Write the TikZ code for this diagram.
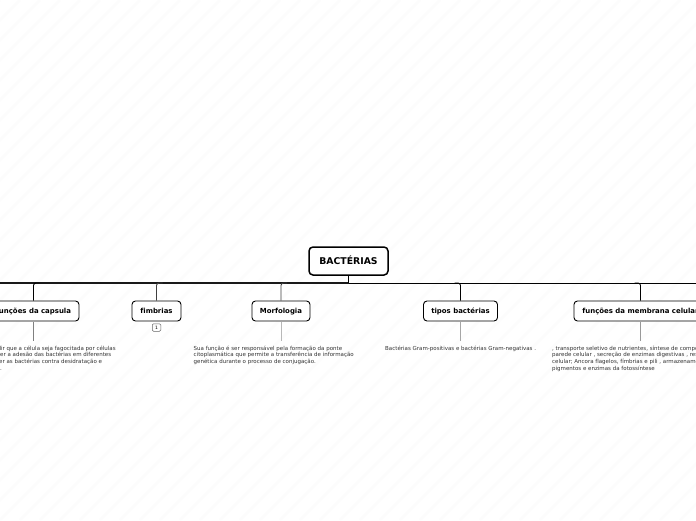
\documentclass[tikz,border=0pt]{standalone}
\usepackage{fontspec}
\setmainfont[Ligatures=NoCommon]{DejaVu Sans}
\usetikzlibrary{calc}
\tikzset{
  x=1pt,y=-1pt,
  rootbox/.style={draw=black,line width=1.5pt,rounded corners=4pt,fill=white,minimum width=79pt,minimum height=28pt,inner sep=0pt,text height=6.5pt,text depth=0pt,font=\fontsize{9.3}{11}\selectfont\bfseries},
  branchbox/.style={draw=black,line width=.9pt,rounded corners=3.5pt,fill=white,minimum height=20pt,inner sep=0pt,text height=5.2pt,text depth=0pt,font=\fontsize{6.95}{8}\selectfont\bfseries},
  note/.style={inner sep=0pt,anchor=north west,align=left,text=black!80,font=\fontsize{5.5}{6.8}\selectfont},
  trunkleft/.style={draw=black!90,line width=1.4pt},
  trunkright/.style={draw=black,line width=1pt},
  rootstem/.style={draw=black,line width=1.5pt},
  drop/.style={draw=black,line width=.9pt,rounded corners=2.5pt},
  dropgrey/.style={drop,draw=black!75},
  stem/.style={draw=black!35,line width=.9pt},
  countbox/.style={draw=black!60,line width=.5pt,rounded corners=1.2pt,minimum width=8.5pt,minimum height=7.5pt,inner sep=0pt,font=\fontsize{4.5}{5}\selectfont},
  stripe/.style={draw=black!1,line width=2.5pt}
}
\begin{document}
\begin{tikzpicture}
\useasboundingbox (0,0) rectangle (696,520);
\fill[white] (0,0) rectangle (696,520);
\begin{scope}
\clip (0,0) rectangle (696,520);
\foreach \k in {0,20,...,1220}{
  \draw[stripe] (\k,0) -- (\k-520,520);
}
\node[rootbox] (root) at (348.5,261) {BACTÉRIAS};
\node[branchbox,minimum width=91pt] (capsula) at (33.5,311) {funções da capsula};
\node[branchbox,minimum width=49pt] (fimbrias) at (156.5,311) {fimbrias};
\node[branchbox,minimum width=58pt] (morfo) at (281,311) {Morfologia};
\node[branchbox,minimum width=74pt] (tipos) at (460.5,311) {tipos bactérias};
\node[branchbox,minimum width=133pt] (membrana) at (640.5,311) {funções da membrana celular};
\coordinate (tl) at (0,283);
\coordinate (tr) at (696,283);
\coordinate (tm) at (root.south |- tl);
\draw[trunkleft] (tl) -- (tm);
\draw[trunkright] (tm) -- (tr);
\draw[rootstem] (root.south) -- (tm);
\draw[drop] (capsula.north) -- (capsula.north |- tl) -- ($(capsula.north |- tl)+(6,0)$);
\draw[dropgrey] (fimbrias.north) -- (fimbrias.north |- tl) -- ($(fimbrias.north |- tl)+(6,0)$);
\draw[dropgrey] (morfo.north) -- (morfo.north |- tl) -- ($(morfo.north |- tl)+(6,0)$);
\draw[drop] (tipos.north) -- (tipos.north |- tl) -- ($(tipos.north |- tl)+(-6,0)$);
\draw[drop] (membrana.north) -- (membrana.north |- tl) -- ($(membrana.north |- tl)+(-6,0)$);
\node[countbox] (count) at (156.5,327.5) {1};
\coordinate (s1) at (33.5,341); \coordinate (s1t) at (33.5,322);
\coordinate (s2) at (281,341); \coordinate (s2t) at (281,322);
\coordinate (s3) at (460.5,341); \coordinate (s3t) at (460.5,322);
\coordinate (s4) at (640.5,341); \coordinate (s4t) at (640.5,322);
\draw[stem,draw=black!50] (s1t) -- (s1);
\draw[stem,draw=black!28] (s2t) -- (s2);
\draw[stem] (s3t) -- (s3);
\draw[stem,draw=black!40] (s4t) -- (s4);
\node[note] (n1) at (-16.5,345.5) {Impedir que a célula seja fagocitada por células\\\hspace*{-4pt}favorecer a adesão das bactérias em diferentes\\\hspace*{-2.5pt}proteger as bactérias contra desidratação e\\\hspace*{16.5pt}.};
\node[note] (n2) at (193.5,345.5) {Sua função é ser responsável pela formação da ponte\\citoplasmática que permite a transferência de informação\\genética durante o processo de conjugação.};
\node[note] (n3) at (385,345.5) {Bactérias Gram-positivas e bactérias Gram-negativas .};
\node[note] (n4) at (552,345.5) {, transporte seletivo de nutrientes, síntese de componentes da\\parede celular , secreção de enzimas digestivas , respiração\\celular; Ancora flagelos, fímbrias e pili , armazenamento de\\pigmentos e enzimas da fotossíntese};
\end{scope}
\end{tikzpicture}
\end{document}
